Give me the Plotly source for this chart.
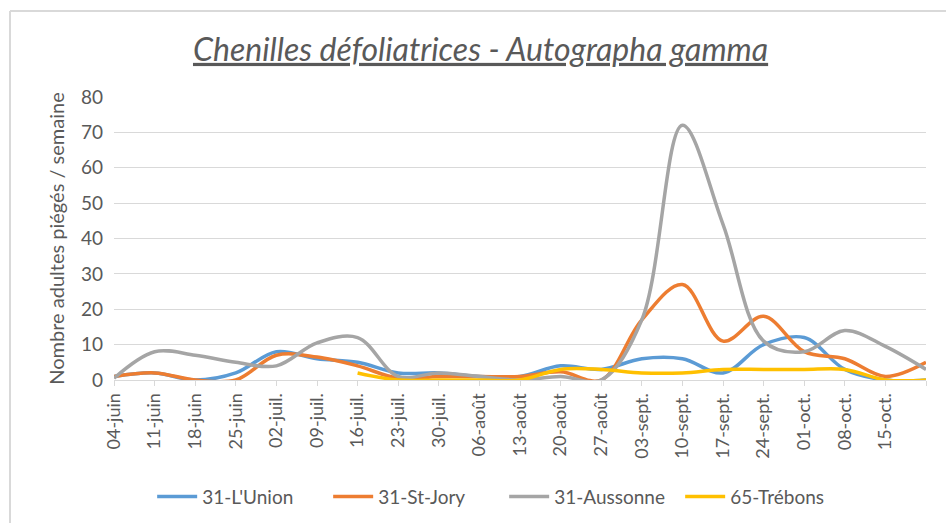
import plotly.graph_objects as go

weeks = ["04-juin", "11-juin", "18-juin", "25-juin", "02-juil.", "09-juil.", "16-juil.",
         "23-juil.", "30-juil.", "06-août", "13-août", "20-août", "27-août", "03-sept.",
         "10-sept.", "17-sept.", "24-sept.", "01-oct.", "08-oct.", "15-oct.", "22-oct."]
tick_labels = weeks[:-1] + [""]

lunion = [1, 2, 0, 2, 8, 6, 5, 2, 2, 1, 1, 4, 3, 6, 6, 2, 10, 12, 3, 0, 0]
stjory = [1, 2, 0, 0, 7, 6.5, 4, 0.5, 1, 1, 1, 2.3, 0, 17, 27, 11, 18, 8, 6, 1, 5]
aussonne = [0.5, 8, 7, 5, 4, 10.5, 12, 1, 2, 1, 0, 1, 0, 17, 72, 44, 11, 8, 14, 9.5, 3]
trebons = [None, None, None, None, None, None, 2, 0, 0, 0, 0, 3, 3, 2, 2, 3, 3, 3, 3, 0, 0]

series = [
    ("31-L'Union", lunion, "#5B9BD5"),
    ("31-St-Jory", stjory, "#ED7D31"),
    ("31-Aussonne", aussonne, "#A5A5A5"),
    ("65-Trébons", trebons, "#FFC000"),
]

FONT = "Lato"
TXT = "#595959"
GRID = "#D9D9D9"

fig = go.Figure()
for name, vals, col in series:
    fig.add_trace(go.Scatter(
        x=weeks, y=vals, name=name, mode="lines",
        line=dict(color=col, width=3.5, shape="spline", smoothing=1.0),
        connectgaps=False,
    ))

fig.update_layout(
    width=946, height=523,
    paper_bgcolor="white", plot_bgcolor="white",
    margin=dict(l=114, r=20, t=97, b=143, autoexpand=False),
    font=dict(family=FONT, color=TXT, size=15),
    title=dict(
        text="<i><u>Chenilles défoliatrices - Autographa gamma</u></i>",
        x=0.508, xanchor="center", y=0.905, yanchor="middle",
        font=dict(family=FONT, size=32, color=TXT),
    ),
    showlegend=True,
    legend=dict(
        orientation="h", x=0.047, xanchor="left", y=-0.345, yanchor="top",
        font=dict(family=FONT, size=19, color=TXT),
        itemwidth=40, entrywidth=121,
    ),
    xaxis=dict(
        type="category", categoryorder="array", categoryarray=weeks,
        range=[0, 20], automargin=False,
        tickmode="array", tickvals=weeks, ticktext=tick_labels,
        tickangle=-90, tickfont=dict(family=FONT, size=18, color=TXT),
        showgrid=False, showline=True, linecolor=GRID, linewidth=1,
        ticks="outside", ticklen=5, tickcolor=GRID,
        zeroline=False,
    ),
    yaxis=dict(
        range=[0, 80], tickvals=[0, 10, 20, 30, 40, 50, 60, 70, 80],
        automargin=False,
        tickfont=dict(family=FONT, size=19, color=TXT),
        showgrid=True, gridcolor=GRID, gridwidth=1,
        zeroline=False, showline=False, ticks="", ticklabelstandoff=10,
        title=dict(text="Nombre adultes piégés / semaine",
                   font=dict(family=FONT, size=20, color=TXT), standoff=10),
    ),
    shapes=[
        dict(type="line", xref="paper", yref="paper",
             x0=-104/812, x1=1.05, y0=1+86/283, y1=1+86/283,
             line=dict(color=GRID, width=2)),
        dict(type="line", xref="paper", yref="paper",
             x0=-104/812, x1=-104/812, y0=1+86/283, y1=-0.6,
             line=dict(color=GRID, width=2)),
    ],
)

fig.write_html("out.html", config={"displayModeBar": False},
               post_script="document.body.style.margin='0';")
